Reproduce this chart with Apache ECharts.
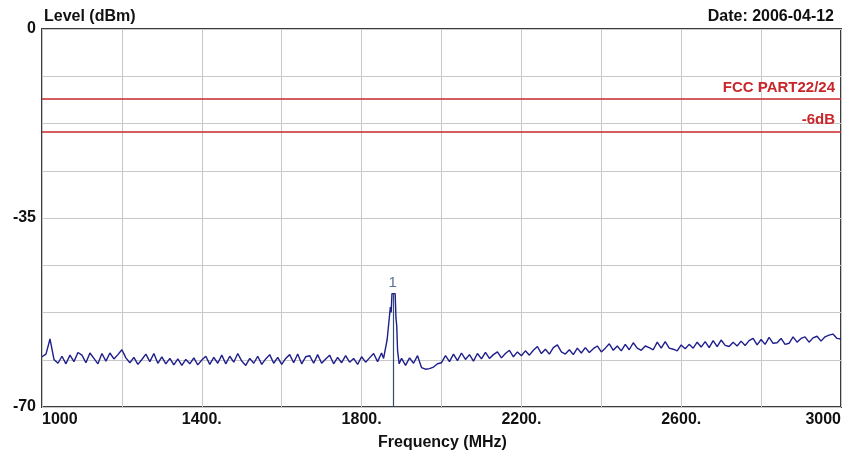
<!DOCTYPE html>
<html>
<head>
<meta charset="utf-8">
<script src="https://cdn.jsdelivr.net/npm/echarts@6/dist/echarts.min.js"></script>
<style>
  html, body { margin: 0; padding: 0; background: #ffffff; }
  #chart { width: 853px; height: 454px; }
</style>
</head>
<body>
<div id="chart"></div>
<script>
// Spectrum sweep 1000–3000 MHz, one reading every 10 MHz (carrier span filled in below)
const sweepStart = 1000;
const sweepStep = 10;
const sweepLevels = [
  -60.7, -60.2, -57.4, -61.2, -61.9, -60.6, -62.0, -60.4, -61.6, -59.9,
  -60.4, -61.8, -60.0, -61.0, -62.0, -60.1, -61.5, -60.0, -61.1, -60.3,
  -59.4, -60.9, -61.8, -60.8, -62.1, -61.2, -60.2, -61.6, -60.1, -61.9,
  -60.7, -62.0, -61.0, -62.2, -61.1, -62.3, -61.2, -62.0, -60.9, -62.2,
  -61.3, -60.6, -62.1, -60.8, -61.9, -60.4, -62.0, -60.6, -61.7, -60.1,
  -61.5, -62.3, -61.0, -61.9, -60.6, -62.1, -61.1, -60.3, -61.9, -60.8,
  -62.1, -61.0, -60.3, -61.8, -60.2, -62.0, -60.7, -60.5, -61.9, -60.3,
  -61.9, -61.1, -60.4, -62.0, -60.8, -61.8, -60.5, -61.7, -61.0, -62.1,
  -60.7, -61.7, -60.9, -60.1, -61.6, -60.0, null, null, null, null,
  -61.0, -62.3, -60.9, -61.9, -60.5, -62.7, -63.0, -62.9, -62.6, -62.0,
  -61.8, -60.5, -61.6, -60.2, -61.4, -60.0, -61.2, -60.3, -61.5, -60.1,
  -61.1, -59.9, -61.0, -60.3, -59.8, -60.9, -60.1, -59.5, -60.7, -59.8,
  -60.5, -59.6, -60.4, -59.5, -58.8, -60.1, -59.3, -60.2, -59.0, -58.5,
  -59.8, -60.2, -59.4, -60.3, -59.1, -60.0, -59.0, -59.9, -59.2, -58.7,
  -59.8, -59.1, -58.3, -59.5, -58.7, -59.6, -58.4, -59.4, -58.1, -59.1,
  -59.5, -58.7, -59.0, -59.4, -58.0, -59.1, -57.9, -59.1, -59.3, -59.6,
  -58.5, -59.2, -58.4, -59.1, -58.0, -58.9, -57.9, -59.0, -57.7, -58.8,
  -57.6, -58.6, -58.8, -58.0, -58.7, -57.8, -58.6, -57.7, -57.3, -58.5,
  -57.5, -58.4, -57.1, -58.2, -58.1, -57.3, -58.4, -58.2, -57.0, -58.0,
  -57.3, -57.0, -58.0, -57.2, -56.9, -57.8, -57.0, -56.7, -56.5, -57.3,
  -57.4
];

// Finer readings across the carrier near 1880 MHz
const carrierFreqs  = [1855, 1860, 1864, 1868, 1872, 1874, 1876, 1884, 1886, 1888, 1890, 1894];
const carrierLevels = [-61.0, -61.2, -57.5, -54.5, -51.5, -52.5, -49.0, -49.0, -53.5, -55.0, -59.5, -62.0];

// Marker 1
const markerFreq = 1878;
const markerLevel = -49.0;
const markerName = '1';

// Limit lines
const limitLevels = [-13, -19];
const limitNames = ['FCC PART22/24', '-6dB'];

// Axis ticks and labels
const freqMin = 1000, freqMax = 3000, freqGridStep = 200;
const freqLabels = { 1000: '1000', 1400: '1400.', 1800: '1800.', 2200: '2200.', 2600: '2600.', 3000: '3000' };
const levelMin = -70, levelMax = 0, levelGridStep = 8.75;
const levelLabels = { 0: '0', '-35': '-35', '-70': '-70' };

const trace = [];
sweepLevels.forEach((v, i) => {
  if (v !== null) trace.push([sweepStart + i * sweepStep, v]);
});
carrierFreqs.forEach((f, i) => trace.push([f, carrierLevels[i]]));
trace.sort((a, b) => a[0] - b[0]);

const FONT = '"Liberation Sans", Arial, sans-serif';
const TXT = { fontFamily: FONT, fontSize: 16, fontWeight: 'bold', color: '#111' };
const chart = echarts.init(document.getElementById('chart'), null, { renderer: 'canvas' });

chart.setOption({
  animation: false,
  backgroundColor: '#ffffff',
  grid: { left: 42, right: 12, top: 29, bottom: 47, show: true, borderColor: '#3c3c3c', borderWidth: 2 },
  title: [
    { text: 'Level (dBm)', left: 39, top: 4, textStyle: TXT },
    { text: 'Date: 2006-04-12', right: 14, top: 4, textStyle: TXT },
    { text: 'Frequency (MHz)', left: 373, top: 430, textStyle: TXT }
  ],
  xAxis: {
    type: 'value', min: freqMin, max: freqMax, interval: freqGridStep,
    axisLine: { show: false }, axisTick: { show: false },
    splitLine: { show: true, lineStyle: { color: '#c8c8c8', width: 1 } },
    axisLabel: Object.assign({}, TXT, {
      margin: 5,
      alignMinLabel: 'left', alignMaxLabel: 'right',
      formatter: v => freqLabels[v] || ''
    })
  },
  yAxis: {
    type: 'value', min: levelMin, max: levelMax, interval: levelGridStep,
    axisLine: { show: false }, axisTick: { show: false },
    splitLine: { show: true, lineStyle: { color: '#c8c8c8', width: 1 } },
    axisLabel: Object.assign({}, TXT, {
      margin: 6,
      formatter: v => levelLabels[String(Math.round(v * 100) / 100)] || ''
    })
  },
  series: [
    {
      type: 'line', data: trace, symbol: 'none', z: 3,
      lineStyle: { color: '#1e1e8c', width: 1.4 },
      markLine: {
        silent: true, symbol: 'none',
        lineStyle: { color: '#c8262a', width: 1.5, type: 'solid' },
        label: {
          show: true, position: 'insideEndTop', distance: [6, 4],
          fontFamily: FONT, fontSize: 15, fontWeight: 'bold', color: '#c8262a',
          formatter: p => limitNames[limitLevels.indexOf(p.value)]
        },
        data: limitLevels.map(v => ({ yAxis: v }))
      }
    },
    {
      type: 'scatter', data: [[markerFreq, markerLevel]], symbolSize: 1, z: 4,
      itemStyle: { color: 'rgba(0,0,0,0)' },
      label: {
        show: true, position: 'top', distance: 3, formatter: markerName,
        fontFamily: FONT, fontSize: 15, color: '#2f4f78'
      },
      markLine: {
        silent: true, symbol: 'none',
        lineStyle: { color: '#2f4f6f', width: 1.2, type: 'solid' },
        label: { show: false },
        data: [[{ coord: [markerFreq, markerLevel] }, { coord: [markerFreq, levelMin] }]]
      }
    }
  ]
});
</script>
</body>
</html>
